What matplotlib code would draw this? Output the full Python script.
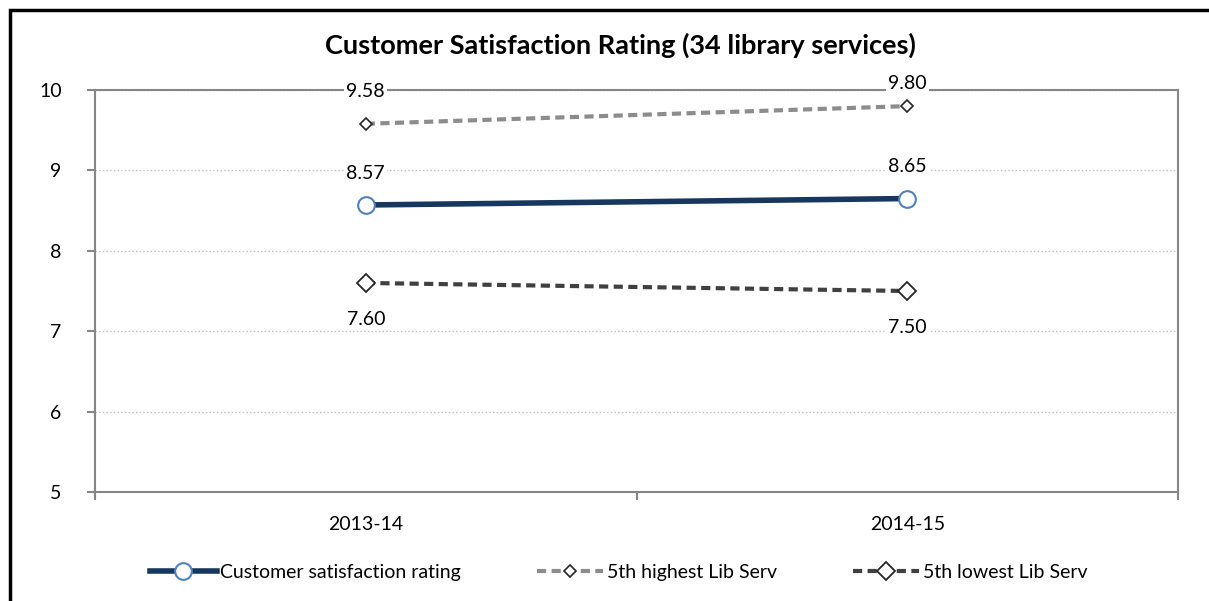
import numpy as np
import matplotlib
matplotlib.use('Agg')
import matplotlib.pyplot as plt
from matplotlib.patches import Rectangle

#----------------------------------------------------------------------------------------#
# Data

years = ['2013-14', '2014-15']
satisfaction = [8.57, 8.65]
highest_5th = [9.58, 9.80]
lowest_5th = [7.60, 7.50]

#----------------------------------------------------------------------------------------#
# Plot

plt.rcParams['font.family'] = ['Lato', 'DejaVu Sans']

fig = plt.figure(figsize=(12.09, 6.01), dpi=100)
ax = fig.add_axes([0.0786, 0.1814, 0.8958, 0.6688])

x = np.arange(len(years))

ax.plot(x, highest_5th, color='#8c8c8c', lw=3, ls=(0, (2.2, 1.3)),
        marker='D', ms=6.5, mfc='white', mec='#262626', mew=1.2,
        label='5th highest Lib Serv', zorder=3)
ax.plot(x, lowest_5th, color='#404040', lw=3, ls=(0, (2.2, 1.3)),
        marker='D', ms=9, mfc='white', mec='#262626', mew=1.3,
        label='5th lowest Lib Serv', zorder=3)
ax.plot(x, satisfaction, color='#17375e', lw=4,
        marker='o', ms=12, mfc='white', mec='#4f81bd', mew=1.5,
        label='Customer satisfaction rating', zorder=4)

lbl_box = dict(facecolor='white', edgecolor='none', pad=1.5)
fs = 14
# label offsets in points (Excel pushes the top one down to stay inside)
for xi, v, dy in zip(x, highest_5th, [23, 16.5]):
    ax.annotate('%.2f' % v, (xi, v), xytext=(0, dy), textcoords='offset points',
                ha='center', va='center', fontsize=fs, bbox=lbl_box, zorder=5)
for xi, v in zip(x, satisfaction):
    ax.annotate('%.2f' % v, (xi, v), xytext=(0, 23), textcoords='offset points',
                ha='center', va='center', fontsize=fs, bbox=lbl_box, zorder=5)
for xi, v in zip(x, lowest_5th):
    ax.annotate('%.2f' % v, (xi, v), xytext=(0, -26.5), textcoords='offset points',
                ha='center', va='center', fontsize=fs, bbox=lbl_box, zorder=5)

ax.set_xlim(-0.5, 1.5)
ax.set_ylim(5, 10)
ax.set_yticks([5, 6, 7, 8, 9, 10])
ax.set_xticks([-0.5, 0.5, 1.5])
ax.set_xticklabels([])
ax.set_xticks(x, minor=True)
ax.set_xticklabels(years, minor=True)
ax.tick_params(axis='x', which='minor', length=0, pad=17, labelsize=fs)
ax.tick_params(axis='x', which='major', length=6, color='#868686', width=1.5)
ax.tick_params(axis='y', length=6, color='#868686', width=1.5, pad=18, labelsize=fs)

ax.yaxis.grid(True, color='#bfbfbf', ls=':', lw=1)
ax.set_axisbelow(True)
for s in ax.spines.values():
    s.set_color('#868686')
    s.set_linewidth(1.5)

fig.suptitle('Customer Satisfaction Rating (34 library services)', x=0.513, y=0.946,
             fontsize=19.5, fontweight='bold')

h, l = ax.get_legend_handles_labels()
order = [2, 0, 1]
fig.legend([h[i] for i in order], [l[i] for i in order], loc='center',
           bbox_to_anchor=(0.512, 0.047), ncol=3, frameon=False, fontsize=fs,
           handlelength=3.4, columnspacing=3.9, handletextpad=0.2)

# chart border
fig.add_artist(Rectangle((10 / 1209, -0.05), 1.2, 1 - 10 / 601 + 0.05,
                         transform=fig.transFigure, fill=False, ec='black', lw=2.5))

plt.savefig('out.png', dpi=100)
